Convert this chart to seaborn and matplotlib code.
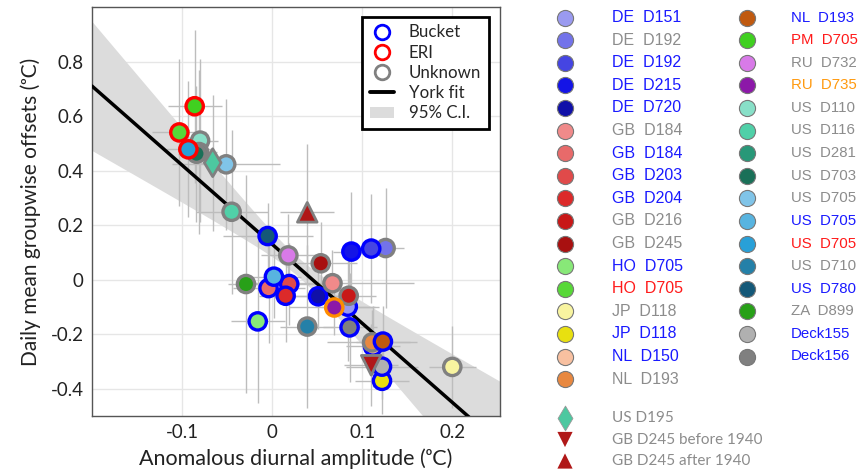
import numpy as np
import pandas as pd
import matplotlib
matplotlib.use("Agg")
import matplotlib.pyplot as plt
import seaborn as sns
from matplotlib.lines import Line2D
from matplotlib.patches import Patch

# ---------------- data ----------------
labels = ["DE  D151", "DE  D192", "DE  D192", "DE  D215", "DE  D720",
          "GB  D184", "GB  D184", "GB  D203", "GB  D204", "GB  D216", "GB  D245",
          "HO  D705", "HO  D705", "JP  D118", "JP  D118", "NL  D150", "NL  D193",
          "NL  D193", "PM  D705", "RU  D732", "RU  D735", "US  D110", "US  D116",
          "US  D281", "US  D703", "US  D705", "US  D705", "US  D705", "US  D710",
          "US  D780", "ZA  D899", "Deck155", "Deck156"]
groups = ["Bucket", "Unknown", "Bucket", "Bucket", "Bucket",
          "Unknown", "Bucket", "Bucket", "Bucket", "Unknown", "Unknown",
          "Bucket", "ERI", "Unknown", "Bucket", "Bucket", "Unknown",
          "Bucket", "ERI", "Unknown", "RU", "Unknown", "Unknown",
          "Unknown", "Unknown", "Unknown", "Bucket", "ERI", "Unknown",
          "Bucket", "Unknown", "Bucket", "Bucket"]
diurnal_amp = [0.084, 0.126, 0.110, 0.088, 0.051,
               0.067, -0.004, 0.019, 0.015, 0.085, 0.054,
               -0.016, -0.103, 0.200, 0.122, 0.112, 0.111,
               0.123, -0.086, 0.018, 0.069, -0.080, -0.045,
               -0.081, -0.084, -0.051, 0.002, -0.093, 0.039,
               -0.005, -0.029, 0.122, 0.086]
offsets = [-0.099, 0.116, 0.114, 0.103, -0.061,
           -0.013, -0.031, -0.016, -0.059, -0.059, 0.060,
           -0.153, 0.540, -0.320, -0.371, -0.245, -0.230,
           -0.227, 0.636, 0.089, -0.102, 0.510, 0.249,
           0.468, 0.462, 0.423, 0.011, 0.478, -0.172,
           0.160, -0.016, -0.319, -0.175]
amp_err = [0.03, 0.02, 0.02, 0.02, 0.04,
           0.09, 0.04, 0.03, 0.03, 0.03, 0.04,
           0.03, 0.03, 0.026, 0.03, 0.03, 0.05,
           0.03, 0.03, 0.03, 0.05, 0.02, 0.04,
           0.02, 0.02, 0.06, 0.03, 0.025, 0.03,
           0.05, 0.02, 0.04, 0.03]
off_err = [0.20, 0.22, 0.20, 0.22, 0.12,
           0.12, 0.20, 0.15, 0.17, 0.15, 0.15,
           0.30, 0.27, 0.15, 0.12, 0.15, 0.12,
           0.13, 0.28, 0.15, 0.10, 0.30, 0.30,
           0.30, 0.25, 0.24, 0.15, 0.25, 0.30,
           0.12, 0.40, 0.12, 0.20]
face_colors = ["#9a9af0", "#7373ea", "#4545e2", "#1414e6", "#1010a8",
               "#f08a8a", "#e86a6a", "#e04a4a", "#dc2a2a", "#c81818", "#a81010",
               "#88e878", "#58d838", "#f8f4a0", "#e8e010", "#f8c0a0", "#e88840",
               "#c05a10", "#40d020", "#d87ae8", "#8c18a8", "#88e0c8", "#50d0a8",
               "#289878", "#1a7058", "#80c4e8", "#58b4e0", "#28a0d8", "#2480a8",
               "#145878", "#28a018", "#b0b0b0", "#808080"]

# special symbols
special_labels = ["US D195", "GB D245 before 1940", "GB D245 after 1940"]
special_amp = [-0.066, 0.110, 0.039]
special_off = [0.429, -0.314, 0.247]
special_amp_err = [0.02, 0.03, 0.03]
special_off_err = [0.25, 0.15, 0.25]
special_colors = ["#4dc8a0", "#b01818", "#b01818"]
special_markers = ["d", "v", "^"]

# York fit parameters
fit_intercept = 0.13
fit_slope = -2.9
ci_base = 0.035
ci_slope = 1.02
ci_center = 0.03

edge_map = {"Bucket": "#0000ff", "ERI": "#ff0000", "Unknown": "#808080", "RU": "#ff8c00"}
text_map = {"Bucket": "#1a1aff", "ERI": "#ff1a1a", "Unknown": "#8c8c8c", "RU": "#ff9a10"}

# ---------------- figure ----------------
sns.set_style("whitegrid")
plt.rcParams["font.family"] = ["Lato", "DejaVu Sans"]

fig = plt.figure(figsize=(8.61, 4.74), dpi=100)
ax = fig.add_axes([92 / 861, 1 - 416 / 474, 408 / 861, 409 / 474])

ax.set_xlim(-0.2, 0.253)
ax.set_ylim(-0.5, 1.0)
ax.set_xticks([-0.1, 0, 0.1, 0.2])
ax.set_xticklabels(["-0.1", "0", "0.1", "0.2"])
ax.set_yticks([-0.4, -0.2, 0, 0.2, 0.4, 0.6, 0.8])
ax.set_yticklabels(["-0.4", "-0.2", "0", "0.2", "0.4", "0.6", "0.8"])
ax.grid(True, color="#e6e6e6", linewidth=1)
for s in ax.spines.values():
    s.set_color("#555555")
    s.set_linewidth(1.0)
ax.tick_params(axis="both", labelsize=13.5, colors="#222222", length=0, pad=6)

# fit + CI
xf = np.linspace(-0.2, 0.253, 200)
yf = fit_intercept + fit_slope * xf
hw = np.sqrt(ci_base ** 2 + (ci_slope * (xf - ci_center)) ** 2)
ax.fill_between(xf, yf - hw, yf + hw, color="#dcdcdc", linewidth=0, zorder=1)

# error bars
all_x = diurnal_amp + special_amp
all_y = offsets + special_off
ax.errorbar(all_x, all_y, xerr=amp_err + special_amp_err, yerr=off_err + special_off_err,
            fmt="none", ecolor="#bdbdbd", elinewidth=1.0, zorder=2)

sns.lineplot(x=xf, y=yf, color="black", linewidth=2.5, ax=ax, zorder=3)

# points
df = pd.DataFrame({"x": diurnal_amp, "y": offsets,
                   "key": [f"{l}|{g}|{i}" for i, (l, g) in enumerate(zip(labels, groups))]})
pal = {k: c for k, c in zip(df["key"], face_colors)}
sns.scatterplot(data=df, x="x", y="y", hue="key", palette=pal, s=155,
                edgecolor=[edge_map[g] for g in groups], linewidth=2.4,
                legend=False, ax=ax, zorder=4)

sdf = pd.DataFrame({"x": special_amp, "y": special_off, "key": special_labels})
sns.scatterplot(data=sdf, x="x", y="y", hue="key", style="key",
                palette=dict(zip(special_labels, special_colors)),
                markers=dict(zip(special_labels, special_markers)),
                s=200, edgecolor="#808080", linewidth=2.0, legend=False, ax=ax, zorder=5)

ax.set_xlabel("Anomalous diurnal amplitude (\u1d52C)", fontsize=15.5, color="#222222", labelpad=5)
ax.set_ylabel("Daily mean groupwise offsets (\u1d52C)", fontsize=15, color="#222222", labelpad=7)

handles = [
    Line2D([], [], marker="o", linestyle="none", markersize=10.5, markerfacecolor="white",
           markeredgecolor="#0000ff", markeredgewidth=2),
    Line2D([], [], marker="o", linestyle="none", markersize=10.5, markerfacecolor="white",
           markeredgecolor="#ff0000", markeredgewidth=2),
    Line2D([], [], marker="o", linestyle="none", markersize=10.5, markerfacecolor="white",
           markeredgecolor="#808080", markeredgewidth=2),
    Line2D([], [], color="black", linewidth=2.8),
    Patch(facecolor="#dcdcdc", edgecolor="none"),
]
leg = ax.legend(handles, ["Bucket", "ERI", "Unknown", "York fit", "95% C.I."],
                loc="upper right", bbox_to_anchor=(0.973, 0.976), fontsize=12.2,
                frameon=True, fancybox=False, framealpha=1, edgecolor="black",
                handlelength=1.4, handletextpad=0.9, labelspacing=0.25,
                borderpad=0.45, borderaxespad=0)
leg.get_frame().set_linewidth(2)
leg.set_zorder(10)

# ---------------- side legend ----------------
lax = fig.add_axes([0, 0, 1, 1], facecolor="none")
lax.set_xlim(0, 861)
lax.set_ylim(474, 0)
lax.axis("off")

row0, drow = 17.5, 22.6
ncol1 = 17
for i, (lab, grp, fc) in enumerate(zip(labels, groups, face_colors)):
    col, row = divmod(i, ncol1)
    mx = 565 if col == 0 else 747
    tx = 612 if col == 0 else 791
    yy = row0 + row * drow
    lax.scatter([mx], [yy], s=135, c=[fc], edgecolors="#777777", linewidths=0.8)
    lax.text(tx, yy, lab, fontsize=11.5 if col == 0 else 10.8, color=text_map[grp],
             va="center", ha="left", family=["Liberation Sans", "DejaVu Sans"])

sy = [418, 439.5, 461]
for lab, fc, mk, yy in zip(special_labels, special_colors, special_markers, sy):
    lax.scatter([565], [yy], s=160 if mk == "d" else 120, c=[fc], marker=mk,
                edgecolors="none" if mk != "d" else "#999999", linewidths=0.6)
    lax.text(612, yy, lab, fontsize=11, color="#8c8c8c", va="center", ha="left")

fig.savefig("out.png", dpi=100)
